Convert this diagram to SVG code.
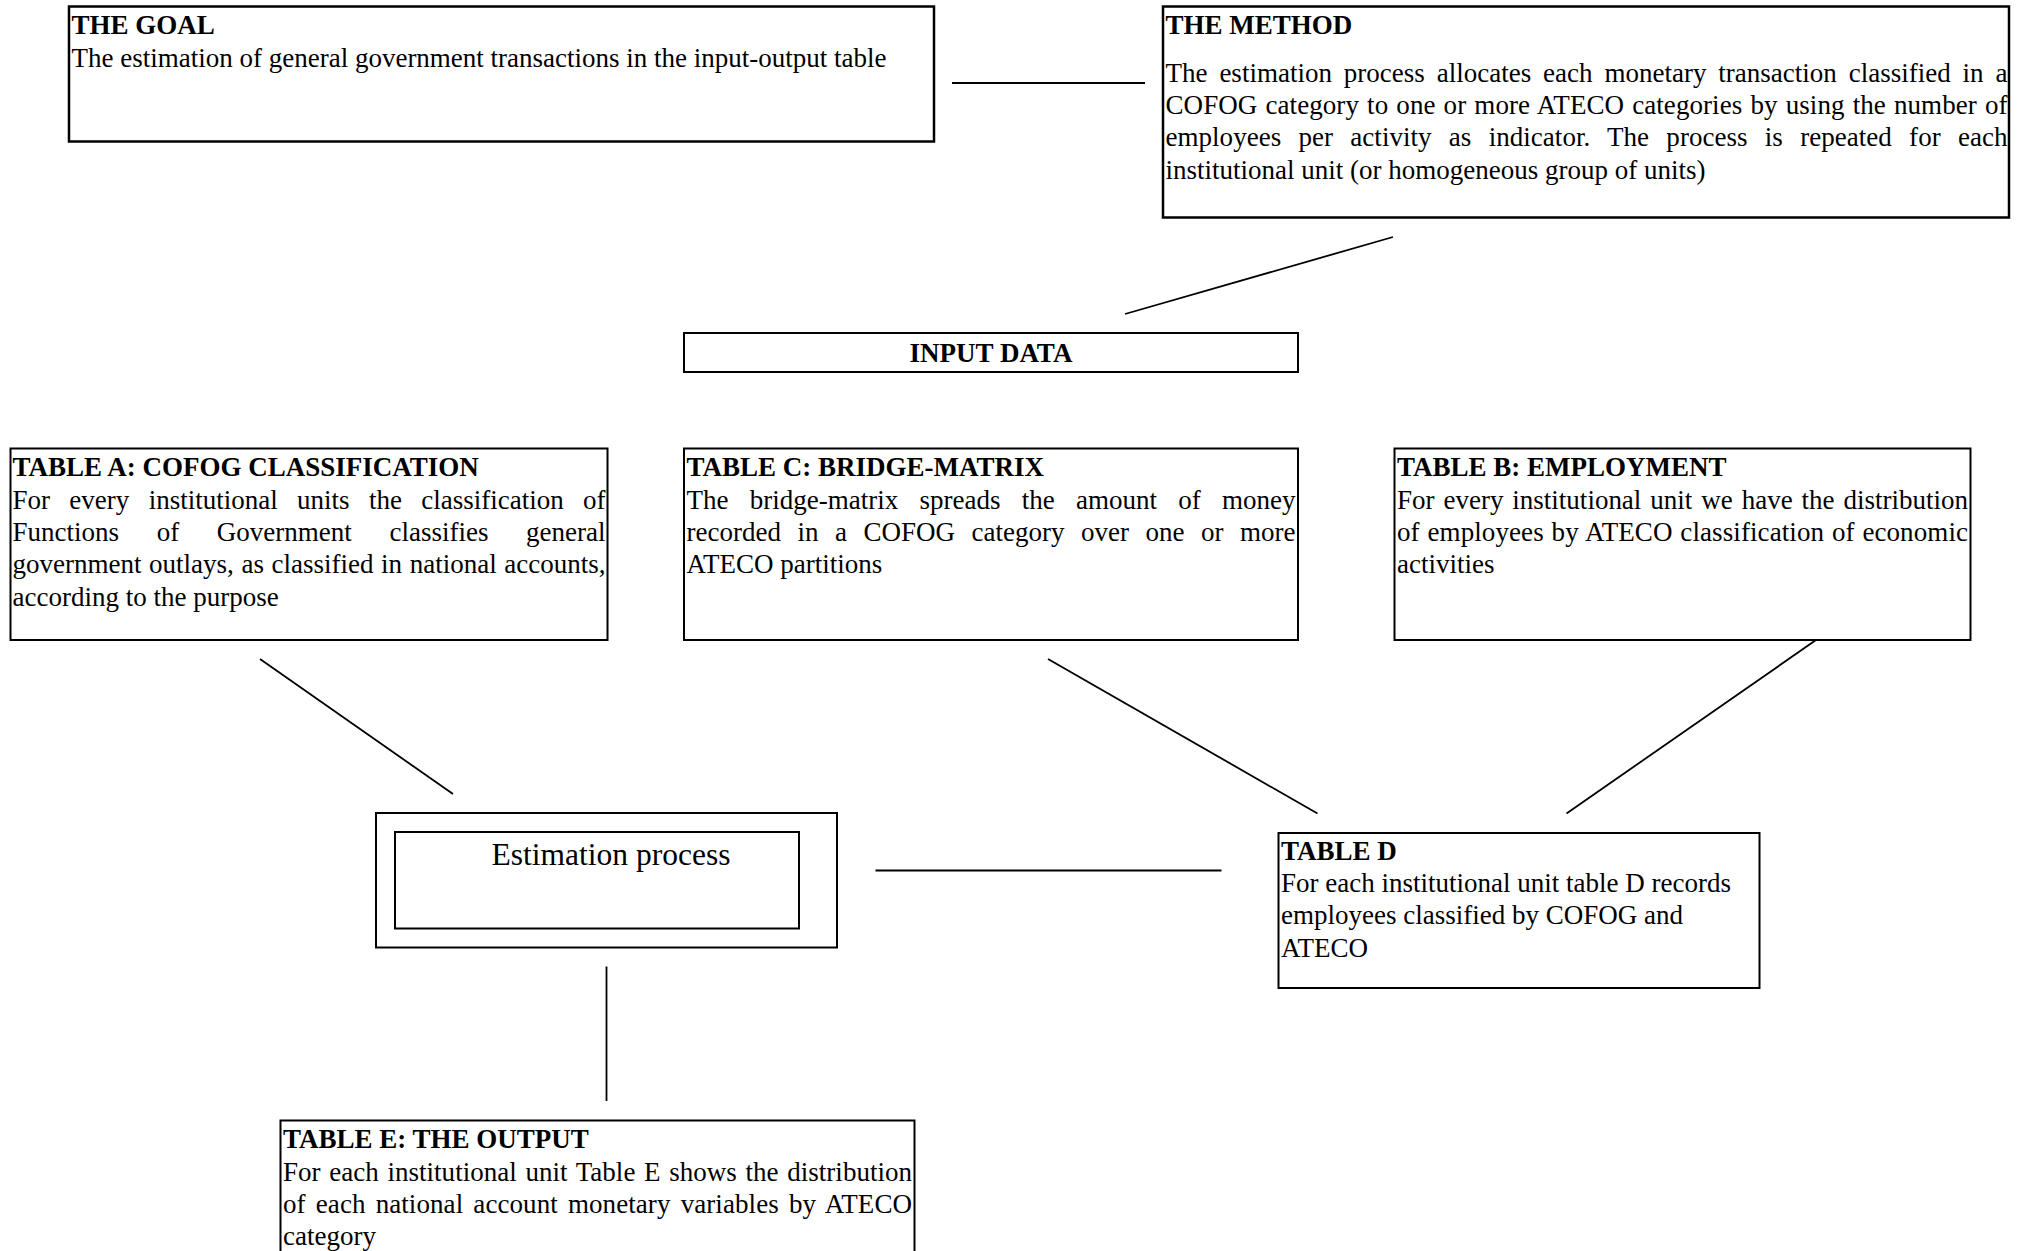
<svg xmlns="http://www.w3.org/2000/svg" width="2031" height="1251" viewBox="0 0 2031 1251">
<style>
  .box { fill: #ffffff; stroke: #000000; stroke-width: 2; }
  .boxt { fill: #ffffff; stroke: #000000; stroke-width: 2.5; }
  .conn line { stroke: #000000; stroke-width: 1.8; }
  text { font-family: "Liberation Serif", "Times New Roman", serif; font-size: 27px; fill: #000000; }
  .b { font-weight: bold; }
  .est { font-size: 31.5px; }
</style>
<rect x="0" y="0" width="2031" height="1251" fill="#ffffff"/>

<g id="connectors" class="conn">
  <line x1="952" y1="83" x2="1145" y2="83"/>
  <line x1="1393" y1="237" x2="1125" y2="314"/>
  <line x1="260" y1="659" x2="453" y2="794"/>
  <line x1="1048" y1="659" x2="1317.5" y2="813.5"/>
  <line x1="1816" y1="640" x2="1566.5" y2="813.5"/>
  <line x1="875.5" y1="870.5" x2="1221.5" y2="870.5"/>
  <line x1="606.5" y1="966.5" x2="606.5" y2="1101"/>
</g>

<g id="goal">
  <rect class="boxt" x="69" y="6.5" width="865" height="135"/>
  <text class="b" x="71.5" y="33.5">THE GOAL</text>
  <text x="71.5" y="67">The estimation of general government transactions in the input-output table</text>
</g>

<g id="method">
  <rect class="boxt" x="1163" y="6.5" width="846" height="211"/>
  <text class="b" x="1165.5" y="33.5">THE METHOD</text>
  <text x="1165.5" y="81.6" word-spacing="5.16" textLength="842" lengthAdjust="spacing">The estimation process allocates each monetary transaction classified in a</text>
  <text x="1165.5" y="114" word-spacing="1.3" textLength="842" lengthAdjust="spacing">COFOG category to one or more ATECO categories by using the number of</text>
  <text x="1165.5" y="146.4" word-spacing="10.5" textLength="842" lengthAdjust="spacing">employees per activity as indicator. The process is repeated for each</text>
  <text x="1165.5" y="178.8">institutional unit (or homogeneous group of units)</text>
</g>

<g id="input-data">
  <rect class="box" x="684" y="333" width="614" height="39"/>
  <text class="b" x="991" y="361.5" text-anchor="middle">INPUT DATA</text>
</g>

<g id="table-a">
  <rect class="box" x="10.5" y="448.5" width="597" height="191.5"/>
  <text class="b" x="12.5" y="476">TABLE A: COFOG CLASSIFICATION</text>
  <text x="12.5" y="508.5" word-spacing="12.6" textLength="593" lengthAdjust="spacing">For every institutional units the classification of</text>
  <text x="12.5" y="540.9" word-spacing="30.9" textLength="593" lengthAdjust="spacing">Functions of Government classifies general</text>
  <text x="12.5" y="573.3" word-spacing="0.85" textLength="593" lengthAdjust="spacing">government outlays, as classified in national accounts,</text>
  <text x="12.5" y="605.7">according to the purpose</text>
</g>

<g id="table-c">
  <rect class="box" x="684" y="448.5" width="614" height="191.5"/>
  <text class="b" x="686.5" y="476">TABLE C: BRIDGE-MATRIX</text>
  <text x="686.5" y="508.5" word-spacing="14.5" textLength="609" lengthAdjust="spacing">The bridge-matrix spreads the amount of money</text>
  <text x="686.5" y="540.9" word-spacing="9.8" textLength="609" lengthAdjust="spacing">recorded in a COFOG category over one or more</text>
  <text x="686.5" y="573.3">ATECO partitions</text>
</g>

<g id="table-b">
  <rect class="box" x="1394.5" y="448.5" width="576" height="191.5"/>
  <text class="b" x="1397" y="476">TABLE B: EMPLOYMENT</text>
  <text x="1397" y="508.5" word-spacing="2.2" textLength="571" lengthAdjust="spacing">For every institutional unit we have the distribution</text>
  <text x="1397" y="540.9" word-spacing="0.93" textLength="571" lengthAdjust="spacing">of employees by ATECO classification of economic</text>
  <text x="1397" y="573.3">activities</text>
</g>

<g id="estimation-process">
  <rect class="box" x="376" y="813" width="461" height="134.5"/>
  <rect class="box" x="395" y="832" width="404" height="96.5"/>
  <text class="est" x="611" y="865" text-anchor="middle">Estimation process</text>
</g>

<g id="table-d">
  <rect class="box" x="1278.5" y="833" width="481" height="155"/>
  <text class="b" x="1281" y="860">TABLE D</text>
  <text x="1281" y="892">For each institutional unit table D records</text>
  <text x="1281" y="924.4">employees classified by COFOG and</text>
  <text x="1281" y="956.8">ATECO</text>
</g>

<g id="table-e">
  <rect class="box" x="280.5" y="1120.5" width="634" height="200"/>
  <text class="b" x="283" y="1148">TABLE E: THE OUTPUT</text>
  <text x="283" y="1180.5" word-spacing="1.9" textLength="629" lengthAdjust="spacing">For each institutional unit Table E shows the distribution</text>
  <text x="283" y="1212.9" word-spacing="3.3" textLength="629" lengthAdjust="spacing">of each national account monetary variables by ATECO</text>
  <text x="283" y="1245.3">category</text>
</g>
</svg>
